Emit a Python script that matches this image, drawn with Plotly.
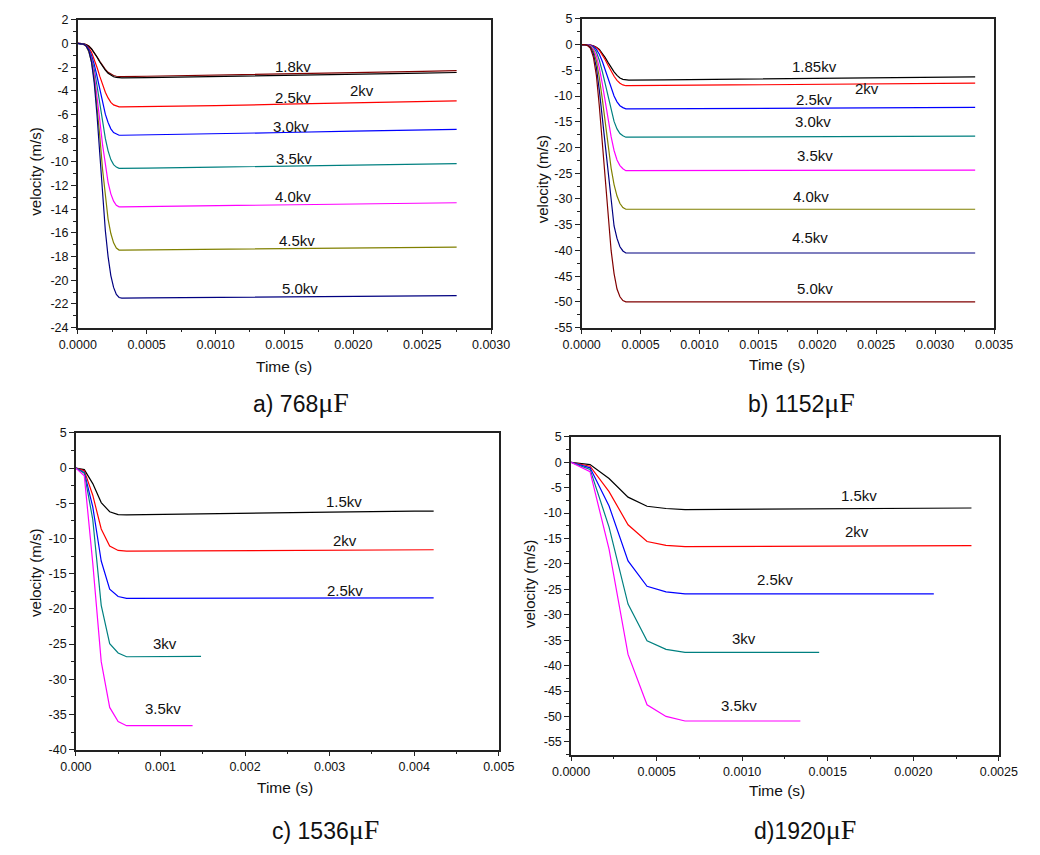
import plotly.graph_objects as go

# ---------------- data ----------------
# a) 768 uF  (time in s, velocity in m/s)
T_A = [0, 2e-5, 4e-5, 6e-5, 8e-5, 1e-4, 1.2e-4, 1.4e-4, 1.6e-4, 1.8e-4, 2e-4, 2.2e-4,
       2.4e-4, 2.6e-4, 2.8e-4, 3e-4, 3.2e-4, 5e-4, 1e-3, 1.5e-3, 2e-3, 2.5e-3, 2.75e-3]
a_wine = [0, 0, -0.03, -0.09, -0.22, -0.45, -0.76, -1.12, -1.51, -1.88, -2.18, -2.44, -2.60,
          -2.71, -2.77, -2.80, -2.80, -2.77, -2.69, -2.58, -2.47, -2.36, -2.30]
a_black = [0, 0, -0.03, -0.09, -0.23, -0.46, -0.78, -1.16, -1.57, -1.94, -2.26, -2.52, -2.70,
           -2.81, -2.87, -2.90, -2.90, -2.88, -2.80, -2.70, -2.60, -2.50, -2.45]
a_red = [0, 0, -0.05, -0.13, -0.37, -0.75, -1.34, -2.03, -2.78, -3.53, -4.12, -4.60, -4.98,
         -5.19, -5.30, -5.35, -5.35, -5.33, -5.25, -5.13, -5.02, -4.91, -4.85]
a_blue = [0, 0, -0.06, -0.16, -0.47, -1.01, -1.78, -2.79, -3.95, -5.04, -5.97, -6.67, -7.21,
          -7.52, -7.67, -7.75, -7.75, -7.72, -7.63, -7.52, -7.41, -7.30, -7.25]
a_teal = [0, 0, -0.06, -0.19, -0.53, -1.21, -2.22, -3.59, -5.17, -6.75, -8.02, -9.07, -9.81,
          -10.23, -10.44, -10.55, -10.55, -10.52, -10.44, -10.35, -10.26, -10.18, -10.15]
a_magenta = [0, 0, -0.07, -0.21, -0.62, -1.38, -2.62, -4.42, -6.49, -8.56, -10.35, -11.73, -12.70,
             -13.32, -13.66, -13.80, -13.80, -13.77, -13.70, -13.62, -13.55, -13.48, -13.45]
a_olive = [0, 0, -0.07, -0.21, -0.70, -1.57, -3.05, -5.24, -7.85, -10.64, -12.91, -14.83, -16.05,
           -16.84, -17.28, -17.45, -17.45, -17.43, -17.38, -17.32, -17.27, -17.22, -17.20]
a_navy = [0, 0, -0.05, -0.20, -0.60, -1.60, -3.40, -6.10, -9.40, -12.80, -15.80, -18.00, -19.60,
          -20.60, -21.20, -21.45, -21.50, -21.48, -21.43, -21.38, -21.34, -21.31, -21.30]

# b) 1152 uF
T_B = [0, 2.5e-5, 5e-5, 7.5e-5, 1e-4, 1.25e-4, 1.5e-4, 1.75e-4, 2e-4, 2.25e-4, 2.5e-4, 2.75e-4,
       3e-4, 3.25e-4, 3.5e-4, 3.75e-4, 4e-4, 7e-4, 1.2e-3, 1.8e-3, 2.4e-3, 3e-3, 3.34e-3]
b_black = [0, 0, -0.03, -0.10, -0.24, -0.52, -0.97, -1.66, -2.55, -3.52, -4.49, -5.31, -6.00,
           -6.49, -6.76, -6.90, -6.90, -6.86, -6.78, -6.66, -6.54, -6.41, -6.30]
b_red = [0, 0, -0.04, -0.12, -0.28, -0.60, -1.12, -1.92, -2.96, -4.08, -5.20, -6.16, -6.96,
         -7.52, -7.84, -8.00, -8.00, -7.96, -7.88, -7.78, -7.68, -7.57, -7.50]
b_blue = [0, 0, -0.05, -0.15, -0.38, -0.94, -1.88, -3.25, -4.88, -6.75, -8.50, -10.00, -11.13,
          -11.88, -12.25, -12.50, -12.50, -12.47, -12.42, -12.36, -12.30, -12.24, -12.20]
b_teal = [0, 0, -0.05, -0.18, -0.54, -1.44, -3.06, -5.22, -7.74, -10.44, -12.96, -14.94, -16.38,
          -17.28, -17.73, -18.00, -18.00, -17.98, -17.95, -17.90, -17.86, -17.82, -17.80]
b_magenta = [0, 0, -0.07, -0.25, -0.86, -2.21, -4.53, -7.60, -11.03, -14.70, -17.89, -20.58, -22.42,
             -23.52, -24.13, -24.50, -24.50, -24.50, -24.48, -24.46, -24.44, -24.42, -24.40]
b_olive = [0, 0, -0.10, -0.38, -1.28, -3.20, -6.40, -10.56, -15.04, -19.84, -24.00, -27.20, -29.44,
           -30.88, -31.68, -32.00, -32.00, -32.00, -32.00, -32.00, -32.00, -32.00, -32.00]
b_navy = [0, 0, -0.16, -0.57, -1.82, -4.46, -8.91, -14.18, -19.85, -25.92, -31.19, -35.24, -37.67,
          -39.29, -40.10, -40.50, -40.50, -40.50, -40.50, -40.50, -40.50, -40.50, -40.50]
b_wine = [0, 0, -0.20, -0.75, -2.50, -6.00, -12.00, -19.00, -26.00, -34.00, -40.00, -44.50, -47.50,
          -49.00, -49.75, -50.00, -50.00, -50.00, -50.00, -50.00, -50.00, -50.00, -50.00]

# c) 1536 uF
T_C_LONG = [0, 1e-4, 2e-4, 3e-4, 4e-4, 5e-4, 6e-4, 1e-3, 2e-3, 3e-3, 4e-3, 4.23e-3]
c_black = [0, -0.22, -2.2, -4.9, -6.2, -6.6, -6.65, -6.6, -6.45, -6.25, -6.12, -6.1]
c_red = [0, -0.36, -3.85, -8.65, -11.07, -11.7, -11.8, -11.78, -11.72, -11.66, -11.6, -11.6]
c_blue = [0, -0.6, -5.5, -13.2, -17.2, -18.25, -18.5, -18.5, -18.48, -18.46, -18.45, -18.45]
T_C_3 = [0, 1e-4, 2e-4, 3e-4, 4e-4, 5e-4, 6e-4, 1e-3, 1.48e-3]
c_teal = [0, -0.73, -7.3, -19.5, -24.95, -26.26, -26.8, -26.8, -26.75]
T_C_35 = [0, 1e-4, 2e-4, 3e-4, 4e-4, 5e-4, 6e-4, 1e-3, 1.38e-3]
c_magenta = [0, -1.1, -13.5, -27.5, -34.0, -36.0, -36.6, -36.6, -36.6]

# d) 1920 uF
T_D_STEPS = [0, 1.11e-4, 2.22e-4, 3.33e-4, 4.44e-4, 5.55e-4, 6.66e-4]
T_D_15 = T_D_STEPS + [1e-3, 1.5e-3, 2e-3, 2.34e-3]
d_black = [0, -0.45, -3.2, -6.86, -8.65, -9.1, -9.3, -9.25, -9.15, -9.05, -9.0]
T_D_2 = T_D_STEPS + [1e-3, 1.5e-3, 2e-3, 2.34e-3]
d_red = [0, -0.77, -5.77, -12.3, -15.6, -16.35, -16.6, -16.55, -16.5, -16.45, -16.4]
T_D_25 = T_D_STEPS + [1e-3, 1.5e-3, 2.12e-3]
d_blue = [0, -1.1, -8.6, -19.4, -24.4, -25.5, -25.9, -25.9, -25.9, -25.9]
T_D_3 = T_D_STEPS + [1e-3, 1.45e-3]
d_teal = [0, -1.4, -12.75, -27.9, -35.1, -36.8, -37.4, -37.4, -37.4]
T_D_35 = T_D_STEPS + [1e-3, 1.34e-3]
d_magenta = [0, -1.86, -17.1, -37.8, -47.7, -50.0, -50.9, -50.9, -50.9]

# curve labels: (text, time, velocity)
LABELS_A = [("1.8kv", 0.00156, -1.95), ("2kv", 0.00206, -3.95), ("2.5kv", 0.00156, -4.6),
            ("3.0kv", 0.00155, -7.05), ("3.5kv", 0.00157, -9.75), ("4.0kv", 0.00156, -12.9),
            ("4.5kv", 0.00159, -16.6), ("5.0kv", 0.00161, -20.7)]
LABELS_B = [("1.85kv", 0.00198, -4.2), ("2kv", 0.00242, -8.5), ("2.5kv", 0.00197, -10.6),
            ("3.0kv", 0.00196, -15.0), ("3.5kv", 0.00198, -21.5), ("4.0kv", 0.00195, -29.5),
            ("4.5kv", 0.00194, -37.5), ("5.0kv", 0.00198, -47.3)]
LABELS_C = [("1.5kv", 0.00317, -4.8), ("2kv", 0.00318, -10.3), ("2.5kv", 0.00318, -17.4),
            ("3kv", 0.00105, -24.9), ("3.5kv", 0.00103, -34.2)]
LABELS_D = [("1.5kv", 0.00168, -6.5), ("2kv", 0.00167, -13.7), ("2.5kv", 0.00119, -23.1),
            ("3kv", 0.00101, -34.6), ("3.5kv", 0.00098, -47.9)]

CAPTIONS = [("a) 768", "\u03bcF"), ("b) 1152", "\u03bcF"), ("c) 1536", "\u03bcF"), ("d)1920", "\u03bcF")]

# tick labels
YT_A = [2, 0, -2, -4, -6, -8, -10, -12, -14, -16, -18, -20, -22, -24]
YT_B = [5, 0, -5, -10, -15, -20, -25, -30, -35, -40, -45, -50, -55]
YT_C = [5, 0, -5, -10, -15, -20, -25, -30, -35, -40]
YT_D = [5, 0, -5, -10, -15, -20, -25, -30, -35, -40, -45, -50, -55]
XT_A = [0, 0.0005, 0.001, 0.0015, 0.002, 0.0025, 0.003]
XT_B = [0, 0.0005, 0.001, 0.0015, 0.002, 0.0025, 0.003, 0.0035]
XT_C = [0, 0.001, 0.002, 0.003, 0.004, 0.005]
XT_D = [0, 0.0005, 0.001, 0.0015, 0.002, 0.0025]

# ---------------- style ----------------
W, H = 1040, 855
SANS = "Arial, Liberation Sans, sans-serif"
BLACK, RED, BLUE = "#000000", "#FF0000", "#0000FF"
TEAL, MAGENTA, OLIVE = "#008080", "#FF00FF", "#808000"
NAVY, WINE = "#000080", "#800000"

# plot-area rectangles in pixels: left, right, top, bottom
BOX = {
    "a": (61, 490, 13, 326),
    "b": (584, 1012, 12, 326),
    "c": (59, 498, 433, 755),
    "d": (573, 1017, 437, 760),
}


def xd(l, r):
    return [l / W, r / W]


def yd(t, b):
    return [1 - b / H, 1 - t / H]


fig = go.Figure()

panels = [
    ("a", "x", "y", [
        (T_A, a_wine, WINE), (T_A, a_black, BLACK), (T_A, a_red, RED), (T_A, a_blue, BLUE),
        (T_A, a_teal, TEAL), (T_A, a_magenta, MAGENTA), (T_A, a_olive, OLIVE), (T_A, a_navy, NAVY)]),
    ("b", "x2", "y2", [
        (T_B, b_black, BLACK), (T_B, b_red, RED), (T_B, b_blue, BLUE), (T_B, b_teal, TEAL),
        (T_B, b_magenta, MAGENTA), (T_B, b_olive, OLIVE), (T_B, b_navy, NAVY), (T_B, b_wine, WINE)]),
    ("c", "x3", "y3", [
        (T_C_LONG, c_black, BLACK), (T_C_LONG, c_red, RED), (T_C_LONG, c_blue, BLUE),
        (T_C_3, c_teal, TEAL), (T_C_35, c_magenta, MAGENTA)]),
    ("d", "x4", "y4", [
        (T_D_15, d_black, BLACK), (T_D_2, d_red, RED), (T_D_25, d_blue, BLUE),
        (T_D_3, d_teal, TEAL), (T_D_35, d_magenta, MAGENTA)]),
]

for key, xa, ya, series in panels:
    for tx, vy, col in series:
        fig.add_trace(go.Scatter(x=tx, y=vy, xaxis=xa, yaxis=ya, mode="lines",
                                 line=dict(color=col, width=1.2), showlegend=False,
                                 hoverinfo="skip"))

axis_common = dict(
    showgrid=False, zeroline=False, showline=True, mirror=True,
    linecolor="#222222", linewidth=1.5,
    ticks="outside", ticklen=5, tickwidth=1.2, tickcolor="#222222",
    tickfont=dict(family=SANS, size=12.5, color="#111111"),
)


def fmt(v, nd):
    return f"{v:.{nd}f}"


axes_spec = {
    "a": dict(xr=[0, 0.003], xt=XT_A, nd=4, xminor=0.00025, yr=[-24, 2], yt=YT_A, yminor=1),
    "b": dict(xr=[0, 0.0035], xt=XT_B, nd=4, xminor=0.00025, yr=[-55, 5], yt=YT_B, yminor=2.5),
    "c": dict(xr=[0, 0.005], xt=XT_C, nd=3, xminor=0.0005, yr=[-40, 5], yt=YT_C, yminor=2.5),
    "d": dict(xr=[0, 0.0025], xt=XT_D, nd=4, xminor=0.00025, yr=[-57.5, 5], yt=YT_D, yminor=2.5),
}

names = {"a": ("xaxis", "yaxis", "y", "x"), "b": ("xaxis2", "yaxis2", "y2", "x2"),
         "c": ("xaxis3", "yaxis3", "y3", "x3"), "d": ("xaxis4", "yaxis4", "y4", "x4")}

layout_axes = {}
for key, spec in axes_spec.items():
    l, r, t, b = BOX[key]
    xn, yn, yanchor, xanchor = names[key]
    layout_axes[xn] = dict(
        axis_common, domain=xd(l, r), anchor=yanchor, range=spec["xr"],
        tickmode="array", tickvals=spec["xt"], ticktext=[fmt(v, spec["nd"]) for v in spec["xt"]],
        minor=dict(ticks="outside", ticklen=3, tickwidth=1, tickcolor="#222222",
                   tickmode="linear", tick0=0, dtick=spec["xminor"], showgrid=False),
    )
    layout_axes[yn] = dict(
        axis_common, domain=yd(t, b), anchor=xanchor, range=spec["yr"],
        tickmode="array", tickvals=spec["yt"], ticktext=[str(v) for v in spec["yt"]],
        minor=dict(ticks="outside", ticklen=3, tickwidth=1, tickcolor="#222222",
                   tickmode="linear", tick0=0, dtick=spec["yminor"], showgrid=False),
    )

annotations = []
for (labels, xr, yr) in [(LABELS_A, "x", "y"), (LABELS_B, "x2", "y2"),
                         (LABELS_C, "x3", "y3"), (LABELS_D, "x4", "y4")]:
    for txt, tx, vy in labels:
        annotations.append(dict(text=txt, x=tx, y=vy, xref=xr, yref=yr, showarrow=False,
                                font=dict(family=SANS, size=15, color="#111111"),
                                xanchor="center", yanchor="middle"))

# axis titles (pixel positions)
Y_TITLES = [(17, 167), (543, 175), (17, 575), (530, 587)]
X_TITLES = [(275, 365), (787, 363), (276, 793), (787, 797)]
for px, py in Y_TITLES:
    annotations.append(dict(text="velocity (m/s)", x=px / W, y=1 - py / H, xref="paper",
                            yref="paper", showarrow=False, textangle=-90,
                            font=dict(family=SANS, size=15, color="#111111"),
                            xanchor="center", yanchor="middle"))
for px, py in X_TITLES:
    annotations.append(dict(text="Time (s)", x=px / W, y=1 - py / H, xref="paper",
                            yref="paper", showarrow=False,
                            font=dict(family=SANS, size=15.5, color="#111111"),
                            xanchor="center", yanchor="middle"))

CAPTION_POS = [(293, 402), (812, 402), (318, 836), (816, 836)]
for (lead, unit), (px, py) in zip(CAPTIONS, CAPTION_POS):
    annotations.append(dict(
        text=f"{lead}<span style=\"font-family:'Times New Roman','Liberation Serif',serif;font-size:28px\">{unit}</span>",
        x=px / W, y=1 - py / H, xref="paper", yref="paper", showarrow=False,
        font=dict(family=SANS, size=23, color="#111111"), xanchor="center", yanchor="middle"))

fig.update_layout(
    width=W, height=H, margin=dict(l=0, r=0, t=0, b=0),
    paper_bgcolor="white", plot_bgcolor="white",
    showlegend=False, annotations=annotations, **layout_axes,
)

fig.write_html("out.html", config={"displayModeBar": False})
